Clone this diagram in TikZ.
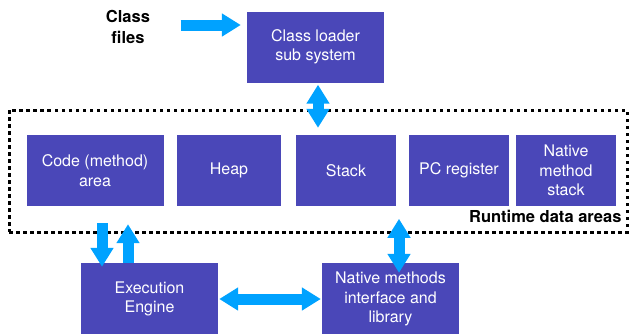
\documentclass[tikz,border=0pt]{standalone}
\usepackage{fontspec}
\setmainfont{TeX Gyre Heros}
\usetikzlibrary{arrows.meta,positioning}
\usepackage{xcolor}
\definecolor{boxblue}{HTML}{4A47B8}
\definecolor{arrowcyan}{HTML}{00A2FF}

\begin{document}
\begin{tikzpicture}[
  x=1pt, y=-1pt,
  box/.style={fill=boxblue, text=white, minimum width=137pt, minimum height=71pt, align=center, font=\fontsize{16}{19.5}\selectfont, inner sep=2pt},
  lbl/.style={align=center, font=\fontsize{16.5}{21}\selectfont\bfseries},
  fat/.style={draw=arrowcyan, line width=11pt, -{Triangle[length=19pt, width=22pt, fill=arrowcyan]}},
  fatboth/.style={draw=arrowcyan, line width=11pt, {Triangle[length=19pt, width=22pt, fill=arrowcyan]}-{Triangle[length=19pt, width=22pt, fill=arrowcyan]}},
]
  \useasboundingbox (0,0) rectangle (630,333);

  % Top: input + loader
  \node[lbl] (files) at (128,27) {Class\\files};
  \node[box] (loader) at (315.5,47) {Class loader\\sub system};

  % Runtime data areas
  \node[draw=black, line width=3pt, dash pattern=on 3.5pt off 3.5pt, minimum width=618pt, minimum height=122pt] (rda) at (318,171) {};
  \node[lbl, anchor=base east] (rdalbl) at (625,222) {Runtime data areas};
  \node[box] (code) at (95,170.5) {Code (method)\\area};
  \node[box, minimum width=104pt] (heap) at (229,170.5) {Heap};
  \node[box, minimum width=100pt] (stack) at (346,170.5) {Stack};
  \node[box, minimum width=100pt] (pc) at (459,170.5) {PC register};
  \node[box, minimum width=100pt] (nstack) at (566,170.5) {Native\\method\\stack};

  % Bottom: engine + native interface
  \node[box, minimum height=72pt] (exec) at (149.5,299) {Execution\\Engine};
  \node[box, minimum height=72pt] (native) at (390.5,299) {Native methods\\interface and\\library};

  % Arrows
  \draw[fat] ([xshift=27pt,yshift=2pt]files.east) -- ([xshift=-6pt,yshift=22pt]loader.west);
  \draw[fatboth] ([xshift=2.5pt,yshift=-2pt]loader.south) -- ([xshift=2.5pt,yshift=7pt]loader.south |- stack.north);
  \draw[fat] ([shift={(7,17)}]code.south) -- ([shift={(-47.5,4)}]exec.north);
  \draw[fat] ([shift={(-21.5,0)}]exec.north) -- ([shift={(33,18)}]code.south);
  \draw[fatboth] ([shift={(8.5,-44)}]native.north) -- ([shift={(8.5,10)}]native.north);
  \draw[fatboth] ([xshift=1pt]exec.east) -- ([xshift=-1pt]native.west);
\end{tikzpicture}
\end{document}
